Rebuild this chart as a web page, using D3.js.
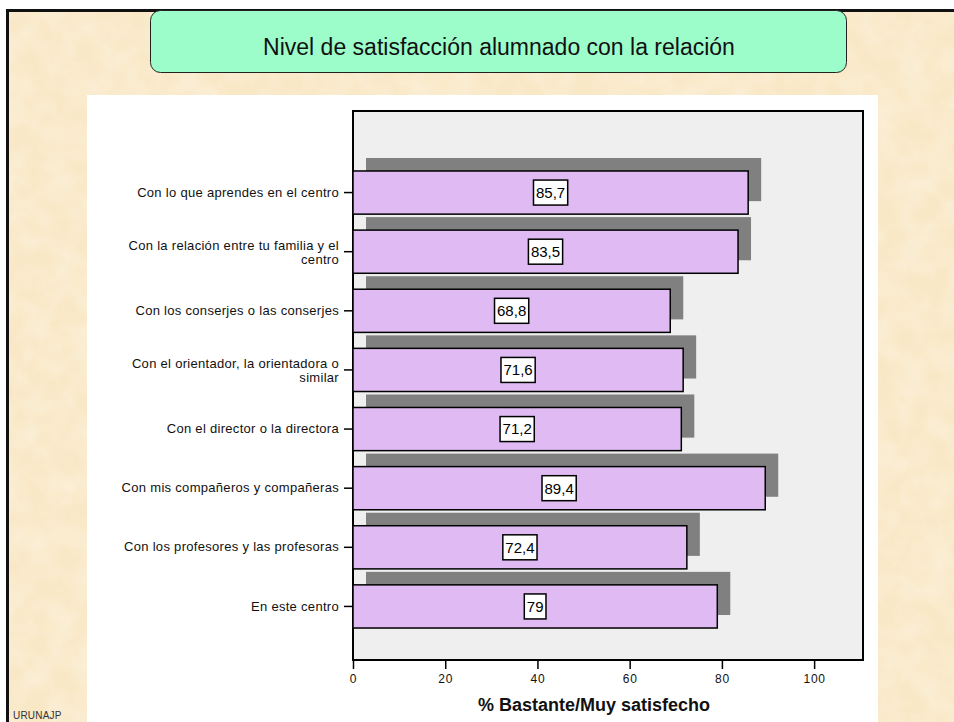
<!DOCTYPE html>
<html>
<head>
<meta charset="utf-8">
<script src="https://cdn.jsdelivr.net/npm/d3@7"></script>
<style>
  body { margin: 0; background: #fff; }
  svg { display: block; font-family: Arial, "Liberation Sans", sans-serif; }
</style>
</head>
<body>
<script>
	// data
	var categories = [
		"Con lo que aprendes en el centro",
		"Con la relación entre tu familia y el\ncentro",
		"Con los conserjes o las conserjes",
		"Con el orientador, la orientadora o\nsimilar",
		"Con el director o la directora",
		"Con mis compañeros y compañeras",
		"Con los profesores y las profesoras",
		"En este centro"
	];
	var values = [85.7, 83.5, 68.8, 71.6, 71.2, 89.4, 72.4, 79];
	var xTicks = [0, 20, 40, 60, 80, 100];
	var title = "Nivel de satisfacción alumnado con la relación";
	var xTitle = "% Bastante/Muy satisfecho";

	var svg_w = 954;
	var svg_h = 722;
	var svg = d3.select("body").append("svg")
		.attr("width", svg_w)
		.attr("height", svg_h);

	// paper texture
	var defs = svg.append("defs");
	var f = defs.append("filter").attr("id", "paper")
		.attr("x", 0).attr("y", 0).attr("width", 1).attr("height", 1);
	f.append("feTurbulence")
		.attr("type", "fractalNoise")
		.attr("baseFrequency", 0.04)
		.attr("numOctaves", 4)
		.attr("seed", 7);
	f.append("feColorMatrix")
		.attr("type", "matrix")
		.attr("values", "0 0 0 0 1  0 0 0 0 1  0 0 0 0 1  0.5 0 0 0 -0.15");

	svg.append("rect")
		.attr("x", 6).attr("y", 9)
		.attr("width", svg_w - 6).attr("height", svg_h - 9)
		.attr("fill", "#111");
	svg.append("rect")
		.attr("x", 9).attr("y", 12)
		.attr("width", svg_w - 9).attr("height", svg_h - 12)
		.attr("fill", "#f9e8c6");
	svg.append("rect")
		.attr("x", 9).attr("y", 12)
		.attr("width", svg_w - 9).attr("height", svg_h - 12)
		.attr("filter", "url(#paper)");

	// title box
	svg.append("rect")
		.attr("x", 150.5).attr("y", 10.5)
		.attr("width", 696).attr("height", 62)
		.attr("rx", 10).attr("ry", 10)
		.attr("fill", "#9cfdca")
		.attr("stroke", "#222")
		.attr("stroke-width", 1);
	svg.append("text")
		.attr("x", 499).attr("y", 55)
		.attr("text-anchor", "middle")
		.attr("font-size", 23)
		.attr("fill", "#111")
		.text(title);

	// white chart panel
	svg.append("rect")
		.attr("x", 87).attr("y", 95)
		.attr("width", 791).attr("height", svg_h - 95)
		.attr("fill", "#fff");

	// plot area
	var plot = { left: 353, top: 111, right: 863, bottom: 660 };

	var x = d3.scaleLinear()
		.domain([0, 110.6])
		.range([plot.left, plot.right]);

	var y = d3.scaleBand()
		.domain(categories)
		.range([plot.top + 52, plot.bottom - 24])
		.paddingInner(0.27)
		.paddingOuter(0.135);

	svg.append("rect")
		.attr("x", plot.left).attr("y", plot.top)
		.attr("width", plot.right - plot.left)
		.attr("height", plot.bottom - plot.top)
		.attr("fill", "#efefef")
		.attr("stroke", "#000")
		.attr("stroke-width", 2);

	var depth = 13;

	// shadows
	svg.append("g").selectAll("rect")
		.data(values)
		.enter()
		.append("rect")
		.attr("x", x(0) + depth)
		.attr("y", (d, i) => y(categories[i]) - depth)
		.attr("width", d => x(d) - x(0))
		.attr("height", y.bandwidth())
		.attr("fill", "#808080");

	// bars
	svg.append("g").selectAll("rect")
		.data(values)
		.enter()
		.append("rect")
		.attr("x", x(0))
		.attr("y", (d, i) => y(categories[i]))
		.attr("width", d => x(d) - x(0))
		.attr("height", y.bandwidth())
		.attr("fill", "#dfbaf3")
		.attr("stroke", "#000")
		.attr("stroke-width", 1.5);

	// value labels
	var lab = svg.append("g").selectAll("g")
		.data(values)
		.enter()
		.append("g")
		.attr("transform", (d, i) => "translate(" + x(d / 2) + "," + (y(categories[i]) + y.bandwidth() / 2) + ")");
	lab.append("text")
		.attr("text-anchor", "middle")
		.attr("dy", "0.36em")
		.attr("font-size", 15)
		.attr("fill", "#000")
		.text(d => String(d).replace(".", ","));
	lab.each(function() {
		var g = d3.select(this);
		var bb = g.select("text").node().getBBox();
		g.insert("rect", "text")
			.attr("x", bb.x - 2.5).attr("y", -12.5)
			.attr("width", bb.width + 5).attr("height", 25)
			.attr("fill", "#fff")
			.attr("stroke", "#000")
			.attr("stroke-width", 1.5);
	});

	// y axis
	var yAxis = svg.append("g")
		.attr("transform", "translate(" + plot.left + ",0)")
		.call(d3.axisLeft(y).tickSize(9).tickPadding(5));
	yAxis.select(".domain").remove();
	yAxis.selectAll(".tick line").attr("stroke", "#000").attr("stroke-width", 1.5);
	yAxis.selectAll(".tick text")
		.attr("font-size", 13)
		.attr("letter-spacing", 0.3)
		.attr("font-family", "Arial, 'Liberation Sans', sans-serif")
		.attr("fill", "#111")
		.each(function(d) {
			var lines = d.split("\n");
			if (lines.length == 1) return;
			var t = d3.select(this).text(null).attr("dy", null);
			lines.forEach(function(l, k) {
				t.append("tspan")
					.attr("x", -14)
					.attr("y", -2 + k * 14)
					.text(l);
			});
		});

	// x axis
	var xAxis = svg.append("g")
		.attr("transform", "translate(0," + plot.bottom + ")")
		.call(d3.axisBottom(x).tickValues(xTicks).tickSize(9).tickPadding(5));
	xAxis.select(".domain").remove();
	xAxis.selectAll(".tick line").attr("stroke", "#000").attr("stroke-width", 1.5);
	xAxis.selectAll(".tick text")
		.attr("font-size", 12)
		.attr("letter-spacing", 0.8)
		.attr("font-family", "Arial, 'Liberation Sans', sans-serif")
		.attr("fill", "#111");

	svg.append("text")
		.attr("x", 594).attr("y", 711)
		.attr("text-anchor", "middle")
		.attr("font-size", 18)
		.attr("font-weight", "bold")
		.attr("fill", "#111")
		.text(xTitle);

	svg.append("text")
		.attr("x", 13).attr("y", 719)
		.attr("font-size", 10)
		.attr("letter-spacing", 0.2)
		.attr("fill", "#333")
		.text("URUNAJP");
</script>
</body>
</html>
